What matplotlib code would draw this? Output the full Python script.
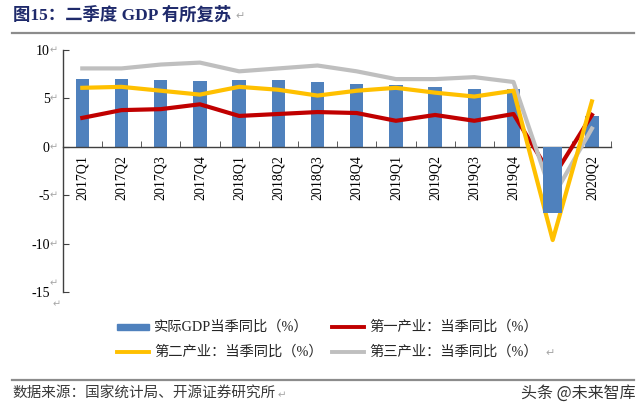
import matplotlib
matplotlib.use("Agg")
import matplotlib.pyplot as plt
from matplotlib.patches import Rectangle
from matplotlib.lines import Line2D
import matplotlib.transforms as mtransforms

# ---------------- data ----------------
quarters = ["2017Q1", "2017Q2", "2017Q3", "2017Q4", "2018Q1", "2018Q2", "2018Q3",
            "2018Q4", "2019Q1", "2019Q2", "2019Q3", "2019Q4", "2020Q1", "2020Q2"]
gdp = [7.0, 7.0, 6.9, 6.8, 6.9, 6.9, 6.7, 6.5, 6.4, 6.2, 6.0, 6.0, -6.8, 3.2]
primary = [3.0, 3.8, 3.9, 4.4, 3.2, 3.4, 3.6, 3.5, 2.7, 3.3, 2.7, 3.4, -3.2, 3.3]
secondary = [6.1, 6.2, 5.8, 5.4, 6.2, 5.9, 5.3, 5.8, 6.1, 5.6, 5.2, 5.8, -9.6, 4.7]
tertiary = [8.1, 8.1, 8.5, 8.7, 7.8, 8.1, 8.4, 7.8, 7.0, 7.0, 7.2, 6.7, -5.2, 1.9]
yticks = [10, 5, 0, -5, -10, -15]

labels = ["实际GDP当季同比（%）", "第一产业：当季同比（%）",
          "第二产业：当季同比（%）", "第三产业：当季同比（%）"]
title = "图15：二季度 GDP 有所复苏"
source = "数据来源：国家统计局、开源证券研究所"
watermark = "头条 @未来智库"

# ---------------- style ----------------
C_BAR = "#4f81bd"
C_RED = "#c00000"
C_YEL = "#ffc000"
C_GRY = "#bfbfbf"
C_AX = "#404040"
C_RET = "#a6a6a6"
SERIF = ["Liberation Serif", "Noto Sans CJK SC", "DejaVu Sans"]
CJK = ["Noto Sans CJK SC", "DejaVu Sans"]

W, H = 640, 411
fig = plt.figure(figsize=(W / 100, H / 100), dpi=100)
fig.patch.set_facecolor("white")

def fx(px):
    return px / W

def fy(py):
    return 1 - py / H

ax = fig.add_axes([fx(62.7), fy(292.4), fx(611.5) - fx(62.7), fy(50) - fy(292.4)])
ax.set_facecolor("none")

x = list(range(len(quarters)))
pos_idx = [i for i, v in enumerate(gdp) if v >= 0]
neg_idx = [i for i, v in enumerate(gdp) if v < 0]
ax.bar([x[i] for i in pos_idx], [gdp[i] for i in pos_idx], width=0.34,
       color=C_BAR, zorder=1.9)
ax.bar([x[i] for i in neg_idx], [gdp[i] for i in neg_idx], width=0.47,
       color=C_BAR, zorder=2.4)

ax.plot(x, primary, color=C_RED, lw=3, zorder=2.1, solid_joinstyle="round")
ax.plot(x, tertiary, color=C_GRY, lw=3, zorder=2.2, solid_joinstyle="round")
ax.plot(x, secondary, color=C_YEL, lw=3, zorder=2.3, solid_joinstyle="round")

ax.set_xlim(-0.5, len(quarters) - 0.5)
ax.set_ylim(-15, 10)

for s in ["top", "right"]:
    ax.spines[s].set_visible(False)
ax.spines["left"].set_color(C_AX)
ax.spines["left"].set_linewidth(1)
ax.spines["bottom"].set_position(("data", 0))
ax.spines["bottom"].set_color(C_AX)
ax.spines["bottom"].set_linewidth(1)
ax.spines["bottom"].set_zorder(2.0)

ax.set_xticks(x)
ax.set_xticklabels(quarters, rotation=90, fontfamily=SERIF, fontsize=10)
ax.set_xticks([i - 0.5 for i in range(len(quarters) + 1)], minor=True)
ax.tick_params(axis="x", which="major", length=0, pad=6, colors="black")
ax.tick_params(axis="x", which="minor", length=4, direction="in", color=C_AX)

ax.set_yticks(yticks)
ax.set_yticklabels([str(v) for v in yticks], fontfamily=SERIF, fontsize=10)
ax.tick_params(axis="y", which="major", length=4, direction="in", color=C_AX, pad=9.5)

# paragraph marks after y tick labels
trans = mtransforms.blended_transform_factory(fig.transFigure, ax.transData)
for v in yticks:
    dy = 0.9 if v == -15 else 0
    ax.text(fx(50), v + dy, "↵", transform=trans, ha="left", va="center",
            fontsize=7, color=C_RET, family=CJK)
fig.text(fx(53), fy(304), "↵", ha="left", va="center", fontsize=7,
         color=C_RET, family=CJK)

# ---------------- title & rules ----------------
fig.text(fx(13), fy(15), title, ha="left", va="center", fontsize=12.5,
         fontweight="bold", color="#1f2a6b", family=SERIF)
fig.text(fx(235), fy(16), "↵", ha="left", va="center", fontsize=8,
         color=C_RET, family=CJK)
fig.add_artist(Line2D([fx(12), fx(634)], [fy(33.3), fy(33.3)], color="#8c8c8c",
                      lw=1.6, transform=fig.transFigure))
fig.add_artist(Line2D([fx(12), fx(634)], [fy(380), fy(380)], color="#8c8c8c",
                      lw=1.6, transform=fig.transFigure))

# ---------------- legend ----------------
handles = [("bar", C_BAR), ("line", C_RED), ("line", C_YEL), ("line", C_GRY)]
slots = [(117, 326.6), (332, 326.6), (117, 352), (332, 352)]
for (kind, col), (hx, hy), lab in zip(handles, slots, labels):
    if kind == "bar":
        fig.add_artist(Rectangle((fx(hx), fy(hy + 3)), fx(32), 6 / H,
                                 color=col, transform=fig.transFigure))
    else:
        fig.add_artist(Line2D([fx(hx), fx(hx + 32)], [fy(hy), fy(hy)], color=col,
                              lw=2.8, transform=fig.transFigure))
    fig.text(fx(hx + 37), fy(hy), lab, ha="left", va="center", fontsize=10.3,
             family=SERIF, color="#262626")
fig.text(fx(545), fy(353), "↵", ha="left", va="center", fontsize=8,
         color=C_RET, family=CJK)

# ---------------- source ----------------
fig.text(fx(12), fy(394), source, ha="left", va="center", fontsize=10.5,
         family=CJK, color="#3a3a3a")
fig.text(fx(278), fy(395), "↵", ha="left", va="center", fontsize=7.5,
         color=C_RET, family=CJK)
fig.text(fx(636), fy(393), watermark, ha="right", va="center", fontsize=11.5,
         family=CJK, color="#333333")

fig.savefig("out.png", dpi=100, facecolor="white")
